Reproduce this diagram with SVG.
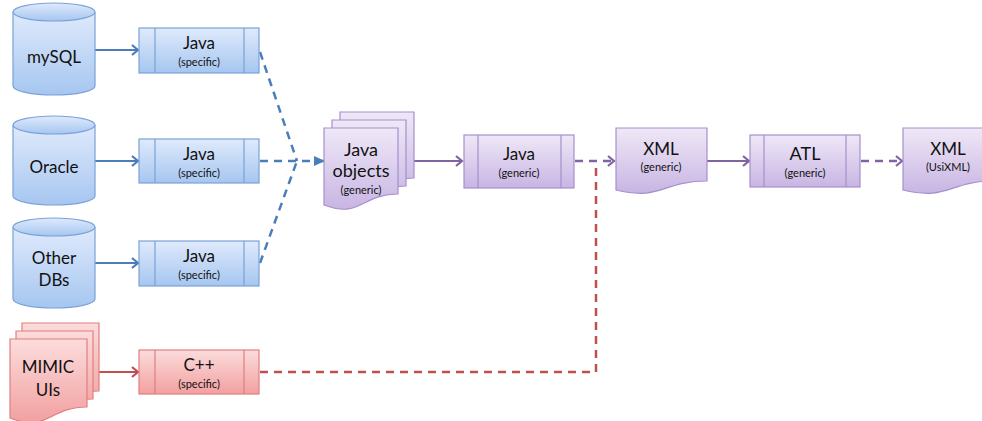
<svg xmlns="http://www.w3.org/2000/svg" width="982" height="421" viewBox="0 0 982 421">
<defs>
<linearGradient id="gb" x1="0" y1="0" x2="0" y2="1"><stop offset="0" stop-color="#dfeafc"/><stop offset="1" stop-color="#a6c6f0"/></linearGradient>
<linearGradient id="gp" x1="0" y1="0" x2="0" y2="1"><stop offset="0" stop-color="#efe8f7"/><stop offset="1" stop-color="#c8b5e3"/></linearGradient>
<linearGradient id="gr" x1="0" y1="0" x2="0" y2="1"><stop offset="0" stop-color="#fcdcdc"/><stop offset="1" stop-color="#f2a0a0"/></linearGradient>
<marker id="cb" markerWidth="12" markerHeight="12" refX="9" refY="6" orient="auto" markerUnits="userSpaceOnUse"><path d="M3,1 L9,6 L3,11" fill="none" stroke="#4a7ebb" stroke-width="2.2"/></marker>
<marker id="tb" markerWidth="12" markerHeight="12" refX="10" refY="6" orient="auto" markerUnits="userSpaceOnUse"><path d="M0,1 L11,6 L0,11 Z" fill="#4a7ebb"/></marker>
<marker id="cp" markerWidth="12" markerHeight="12" refX="9" refY="6" orient="auto" markerUnits="userSpaceOnUse"><path d="M3,1 L9,6 L3,11" fill="none" stroke="#8064a2" stroke-width="2.2"/></marker>
<marker id="cr" markerWidth="12" markerHeight="12" refX="9" refY="6" orient="auto" markerUnits="userSpaceOnUse"><path d="M3,1 L9,6 L3,11" fill="none" stroke="#c0504d" stroke-width="2.2"/></marker>
</defs>
<style>
.b{fill:url(#gb);stroke:#7aa2d8;stroke-width:1.2}
.p{fill:url(#gp);stroke:#a590cc;stroke-width:1.2}
.r{fill:url(#gr);stroke:#e07f7f;stroke-width:1.2}
.bl{stroke:#7aa2d8;stroke-width:1.2}
.pl{stroke:#a590cc;stroke-width:1.2}
.rl{stroke:#e07f7f;stroke-width:1.2}
text{font-family:Lato,"Open Sans","Liberation Sans",sans-serif;fill:#111;text-anchor:middle}
.t{font-size:17px}
.tl{font-size:18px}
.s{font-size:11px}
.cb{stroke:#4a7ebb;stroke-width:2;fill:none}
.db{stroke:#4a7ebb;stroke-width:2.5;fill:none;stroke-dasharray:8 6}
.cp{stroke:#8064a2;stroke-width:2;fill:none}
.dp{stroke:#8064a2;stroke-width:2.5;fill:none;stroke-dasharray:8 6}
.cr{stroke:#c0504d;stroke-width:2;fill:none}
.dr{stroke:#c0504d;stroke-width:2.5;fill:none;stroke-dasharray:8 6}
</style>

<g id="connectors">
<path class="cb" d="M95,50 H138" marker-end="url(#cb)"/>
<path class="cb" d="M95,161 H138" marker-end="url(#cb)"/>
<path class="cb" d="M95,263 H138" marker-end="url(#cb)"/>
<path class="db" d="M260,52 L297,161"/>
<path class="db" d="M260,263 L297,161"/>
<path class="db" d="M260,161 H324" marker-end="url(#tb)"/>
<path class="cr" d="M99,372 H138" marker-end="url(#cr)"/>
<path class="dr" d="M260,372 H596 V162"/>
<path class="cp" d="M414,161 H462" marker-end="url(#cp)"/>
<path class="dp" d="M575,161 H614" marker-end="url(#cp)"/>
<path class="cp" d="M707,161 H749" marker-end="url(#cp)"/>
<path class="dp" d="M861,161 H902" marker-end="url(#cp)"/>
</g>

<g id="mysql">
<path class="b" d="M13,12 V86 A41,9 0 0 0 95,86 V12"/>
<ellipse class="b" cx="54" cy="12" rx="41" ry="9"/>
<text class="t" x="54" y="63">mySQL</text>
</g>
<g id="oracle">
<path class="b" d="M13,125 V196 A41,9 0 0 0 95,196 V125"/>
<ellipse class="b" cx="54" cy="125" rx="41" ry="9"/>
<text class="t" x="54" y="173">Oracle</text>
</g>
<g id="otherdbs">
<path class="b" d="M13,227 V299 A41,9 0 0 0 95,299 V227"/>
<ellipse class="b" cx="54" cy="227" rx="41" ry="9"/>
<text class="t" x="54" y="264">Other</text>
<text class="t" x="54" y="286">DBs</text>
</g>

<g id="java-mysql">
<rect class="b" x="139" y="28" width="120" height="45"/>
<path class="bl" d="M155,28 V73 M244,28 V73"/>
<text class="t" x="199" y="49">Java</text>
<text class="s" x="199" y="66">(specific)</text>
</g>
<g id="java-oracle">
<rect class="b" x="139" y="139" width="120" height="44"/>
<path class="bl" d="M155,139 V183 M244,139 V183"/>
<text class="t" x="199" y="160">Java</text>
<text class="s" x="199" y="177">(specific)</text>
</g>
<g id="java-other">
<rect class="b" x="139" y="241" width="120" height="45"/>
<path class="bl" d="M155,241 V286 M244,241 V286"/>
<text class="t" x="199" y="262">Java</text>
<text class="s" x="199" y="279">(specific)</text>
</g>

<g id="mimic">
<path class="r" d="M22,323 H99 V391 C60.5,391 60.5,417 22,402 Z"/>
<path class="r" d="M16,331 H93 V399 C54.5,399 54.5,425 16,410 Z"/>
<path class="r" d="M10,339 H87 V407 C48.5,407 48.5,433 10,418 Z"/>
<text class="t" x="48" y="373">MIMIC</text>
<text class="t" x="48" y="396">UIs</text>
</g>
<g id="cpp">
<rect class="r" x="139" y="350" width="120" height="44"/>
<path class="rl" d="M155,350 V394 M244,350 V394"/>
<text class="t" x="199" y="371">C++</text>
<text class="s" x="199" y="388">(specific)</text>
</g>

<g id="javaobjects">
<path class="p" d="M340,112 H414 V178 C377,178 377,203 340,189 Z"/>
<path class="p" d="M332,120 H406 V186 C369,186 369,211 332,197 Z"/>
<path class="p" d="M324,128 H398 V194 C361,194 361,219 324,205 Z"/>
<text class="tl" x="361" y="156">Java</text>
<text class="tl" x="361" y="177">objects</text>
<text class="s" x="361" y="194">(generic)</text>
</g>

<g id="java-generic">
<rect class="p" x="464" y="135" width="110" height="53"/>
<path class="pl" d="M478,135 V188 M561,135 V188"/>
<text class="t" x="519" y="160">Java</text>
<text class="s" x="519" y="177">(generic)</text>
</g>

<g id="xml-generic">
<path class="p" d="M616,128 H707 V181 C661.5,181 661.5,201 616,190 Z"/>
<text class="t" x="661" y="155">XML</text>
<text class="s" x="661" y="171">(generic)</text>
</g>

<g id="atl">
<rect class="p" x="750" y="135" width="110" height="52"/>
<path class="pl" d="M764,135 V187 M846,135 V187"/>
<text class="tl" x="805" y="160">ATL</text>
<text class="s" x="805" y="177">(generic)</text>
</g>

<g id="xml-usixml">
<path class="p" d="M903,128 H994 V181 C948.5,181 948.5,201 903,190 Z"/>
<text class="t" x="948" y="155">XML</text>
<text class="s" x="948" y="171">(UsiXML)</text>
</g>
</svg>
